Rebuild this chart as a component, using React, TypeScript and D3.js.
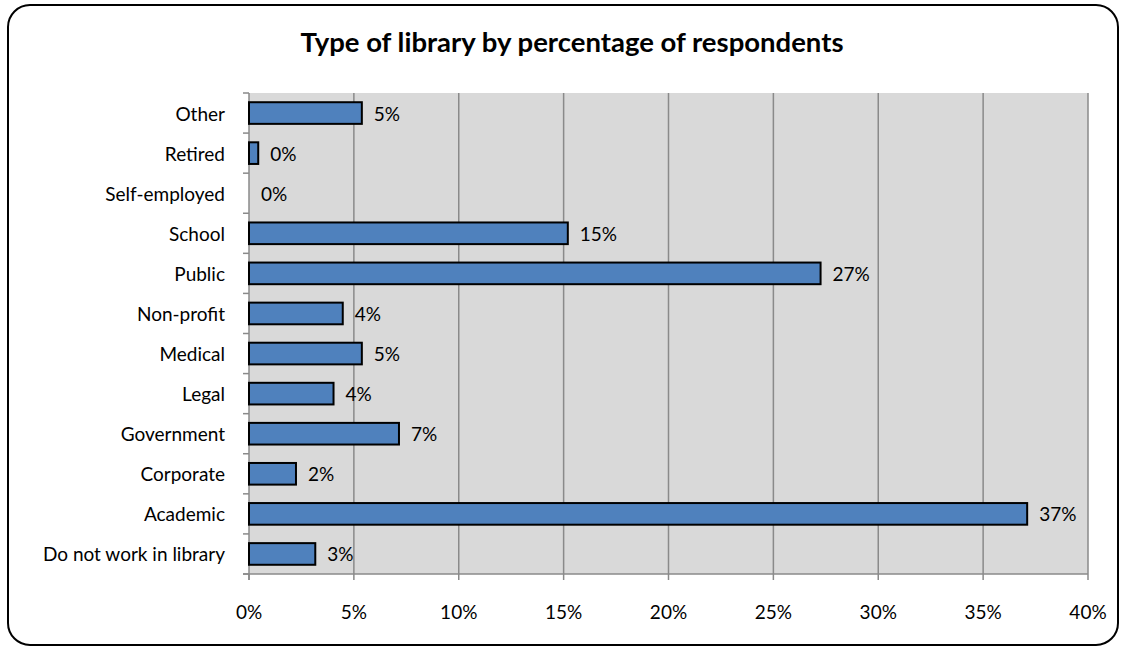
import React from "react";
import * as d3 from "d3";

const categories = [
  "Other",
  "Retired",
  "Self-employed",
  "School",
  "Public",
  "Non-profit",
  "Medical",
  "Legal",
  "Government",
  "Corporate",
  "Academic",
  "Do not work in library",
];
const values = [5.38, 0.44, 0, 15.2, 27.25, 4.47, 5.38, 4.03, 7.15, 2.24, 37.1, 3.16];
const xTicks = [0, 5, 10, 15, 20, 25, 30, 35, 40];
const title = "Type of library by percentage of respondents";

const W = 1126;
const H = 649;
const FONT = "Lato, 'Open Sans', sans-serif";

export default function App() {
  const left = 249;
  const right = 1088;
  const top = 93;
  const bottom = 574;
  const x = d3.scaleLinear().domain([0, 40]).range([left, right]);
  const y = d3
    .scaleBand<string>()
    .domain(categories)
    .range([top, bottom])
    .paddingInner(0.46)
    .paddingOuter(0.23);
  const bandEdges = d3.range(categories.length + 1).map((i) => top + i * ((bottom - top) / categories.length));
  const grid = "#8a8a8a";
  const fs = 19;

  return (
    <svg
      width={W}
      height={H}
      style={{ position: "absolute", left: 0, top: 0, background: "#fff" }}
      fontFamily={FONT}
    >
      <rect x={8} y={5} width={W - 16} height={H - 9} rx={22} ry={22} fill="#fff" stroke="#000" strokeWidth={2} />
      <text x={W / 2 + 9} y={52} textAnchor="middle" fontSize={27.5} fontWeight="bold" fill="#000">
        {title}
      </text>
      <rect x={left} y={top} width={right - left} height={bottom - top} fill="#d9d9d9" />
      {xTicks.slice(1).map((t) => (
        <line key={"g" + t} x1={x(t)} x2={x(t)} y1={top} y2={bottom} stroke={grid} strokeWidth={1.5} />
      ))}
      <line x1={left} x2={left} y1={top} y2={bottom + 6} stroke={grid} strokeWidth={1.5} />
      <line x1={left - 6} x2={right} y1={bottom} y2={bottom} stroke={grid} strokeWidth={1.5} />
      {bandEdges.map((e, i) => (
        <line key={"yt" + i} x1={left - 6} x2={left} y1={e} y2={e} stroke={grid} strokeWidth={1.5} />
      ))}
      {xTicks.map((t) => (
        <line key={"xt" + t} x1={x(t)} x2={x(t)} y1={bottom} y2={bottom + 6} stroke={grid} strokeWidth={1.5} />
      ))}
      {xTicks.map((t) => (
        <text key={"xl" + t} x={x(t)} y={611} textAnchor="middle" dominantBaseline="central" fontSize={fs} fill="#000">
          {t + "%"}
        </text>
      ))}
      {categories.map((c, i) => {
        const v = values[i];
        const y0 = y(c) as number;
        const cy = y0 + y.bandwidth() / 2;
        return (
          <g key={c}>
            {v > 0 && (
              <rect
                x={x(0)}
                y={y0}
                width={x(v) - x(0)}
                height={y.bandwidth()}
                fill="#4f81bd"
                stroke="#000"
                strokeWidth={2}
              />
            )}
            <text x={left - 24} y={cy} textAnchor="end" dominantBaseline="central" fontSize={fs} fill="#000">
              {c}
            </text>
            <text x={x(v) + 12} y={cy} textAnchor="start" dominantBaseline="central" fontSize={fs} fill="#000">
              {Math.round(v) + "%"}
            </text>
          </g>
        );
      })}
    </svg>
  );
}
